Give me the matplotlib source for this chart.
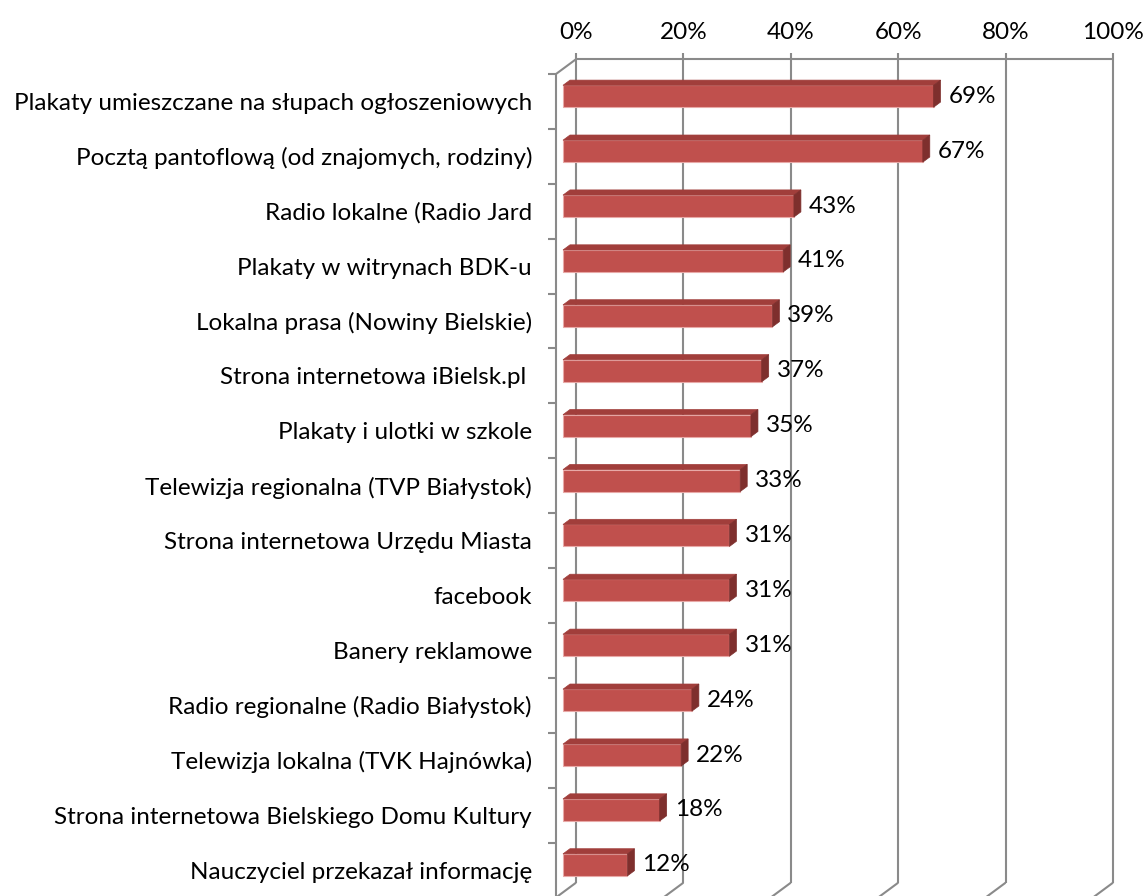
import matplotlib.pyplot as plt
from matplotlib.patches import Polygon

# dane
kategorie = [
    "Plakaty umieszczane na słupach ogłoszeniowych",
    "Pocztą pantoflową (od znajomych, rodziny)",
    "Radio lokalne (Radio Jard",
    "Plakaty w witrynach BDK-u",
    "Lokalna prasa (Nowiny Bielskie)",
    "Strona internetowa iBielsk.pl ",
    "Plakaty i ulotki w szkole",
    "Telewizja regionalna (TVP Białystok)",
    "Strona internetowa Urzędu Miasta",
    "facebook",
    "Banery reklamowe",
    "Radio regionalne (Radio Białystok)",
    "Telewizja lokalna (TVK Hajnówka)",
    "Strona internetowa Bielskiego Domu Kultury",
    "Nauczyciel przekazał informację",
]
wartosci = [69, 67, 43, 41, 39, 37, 35, 33, 31, 31, 31, 24, 22, 18, 12]
ticki_x = [0, 20, 40, 60, 80, 100]
etykiety_x = ["0%", "20%", "40%", "60%", "80%", "100%"]

plt.rcParams['font.family'] = ['Lato', 'DejaVu Sans']
FS = 17.5
GRID = "#8a8a8a"
FRONT = "#c0504d"
TOP = "#a13e3b"
SIDE = "#7e2f2d"

W, H, DPI = 1145, 896, 100
fig = plt.figure(figsize=(W / DPI, H / DPI), dpi=DPI)

# plaszczyzna przednia (piksele)
x0, x1 = 556, 1093
ytop, band = 74, 54.9
n = len(kategorie)
ybot = ytop + n * band
ax = fig.add_axes([x0 / W, (H - ybot) / H, (x1 - x0) / W, (ybot - ytop) / H])
ax.set_xlim(0, 100)
ax.set_ylim(n, 0)
ax.axis('off')

px_x = 100 / (x1 - x0)
px_y = n / (ybot - ytop)
SLOPE = 0.74


def ox(d):
    return d * px_x


def oy(d):
    return -d * SLOPE * px_y


BACK = 20
lw = 1.5
kw = dict(color=GRID, lw=lw, clip_on=False, solid_capstyle='butt')

# tylna sciana - linie siatki
for t in ticki_x:
    ax.plot([t + ox(BACK)] * 2, [oy(BACK), n + oy(BACK)], **kw)
    # podloga
    ax.plot([t, t + ox(BACK)], [n, n + oy(BACK)], **kw)
# gorna os
ax.plot([ox(BACK), 100 + ox(BACK)], [oy(BACK), oy(BACK)], **kw)
for t, lab in zip(ticki_x, etykiety_x):
    ax.plot([t + ox(BACK)] * 2, [oy(BACK), oy(BACK) - 6 * px_y], **kw)
    ax.annotate(lab, xy=(t + ox(BACK), oy(BACK)), xytext=(0, 27),
                textcoords='offset pixels', ha='center', va='center',
                fontsize=FS, annotation_clip=False)

# lewa os (przednia)
ax.plot([0, 0], [0, n + 1], **kw)
ax.plot([0, ox(BACK)], [0, oy(BACK)], **kw)
for i in range(n + 1):
    ax.plot([0, -8 * px_x], [i, i], **kw)

# slupki 3D
h = 0.4
d1, d2 = 7, 14
for i, v in enumerate(wartosci):
    yc = i + 0.5
    top1 = yc - h / 2 + oy(d1)
    top2 = yc - h / 2 + oy(d2)
    bot1 = yc + h / 2 + oy(d1)
    bot2 = yc + h / 2 + oy(d2)
    ax.barh(yc + oy(d1), v, left=ox(d1), height=h, color=FRONT,
            edgecolor="#e8a9a7", linewidth=0.8, clip_on=False, zorder=3)
    ax.add_patch(Polygon([(ox(d1), top1), (ox(d1) + v, top1),
                          (ox(d2) + v, top2), (ox(d2), top2)],
                         closed=True, facecolor=TOP, edgecolor=TOP,
                         lw=0.5, clip_on=False, zorder=3))
    ax.add_patch(Polygon([(ox(d1) + v, top1), (ox(d2) + v, top2),
                          (ox(d2) + v, bot2), (ox(d1) + v, bot1)],
                         closed=True, facecolor=SIDE, edgecolor=SIDE,
                         lw=0.5, clip_on=False, zorder=3))
    ax.annotate(f"{v}%", xy=(ox(d1) + v, yc + oy(d1)), xytext=(15, 0),
                textcoords='offset pixels', ha='left', va='center',
                fontsize=FS, annotation_clip=False, zorder=4)
    ax.annotate(kategorie[i], xy=(0, yc), xytext=(-24, -2),
                textcoords='offset pixels', ha='right', va='center',
                fontsize=FS, annotation_clip=False)

fig.savefig("out.png", dpi=DPI)
